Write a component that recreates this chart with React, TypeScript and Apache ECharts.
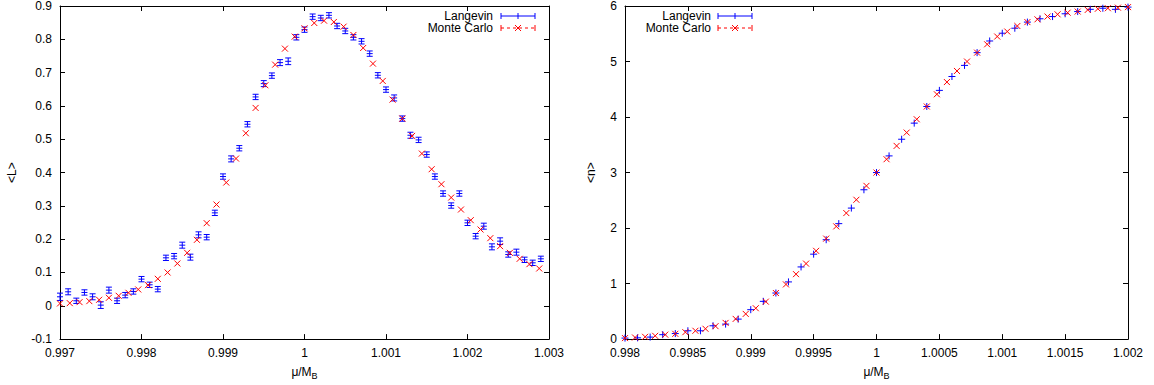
import React, { useEffect, useRef } from 'react';
import * as echarts from 'echarts';

// ---------- Left panel: <L> vs mu/M_B ----------
const lxLangevin = [
  0.9970, 0.9971, 0.9972, 0.9973, 0.9974, 0.9975, 0.9976, 0.9977, 0.9978, 0.9979,
  0.9980, 0.9981, 0.9982, 0.9983, 0.9984, 0.9985, 0.9986, 0.9987, 0.9988, 0.9989,
  0.9990, 0.9991, 0.9992, 0.9993, 0.9994, 0.9995, 0.9996, 0.9997, 0.9998, 0.9999,
  1.0000, 1.0001, 1.0002, 1.0003, 1.0004, 1.0005, 1.0006, 1.0007, 1.0008, 1.0009,
  1.0010, 1.0011, 1.0012, 1.0013, 1.0014, 1.0015, 1.0016, 1.0017, 1.0018, 1.0019,
  1.0020, 1.0021, 1.0022, 1.0023, 1.0024, 1.0025, 1.0026, 1.0027, 1.0028, 1.0029,
];
const lyLangevin = [
  0.027, 0.042, 0.015, 0.040, 0.027, 0.002, 0.047, 0.015, 0.032, 0.043,
  0.080, 0.063, 0.050, 0.144, 0.149, 0.182, 0.146, 0.213, 0.206, 0.279,
  0.388, 0.441, 0.473, 0.545, 0.627, 0.667, 0.691, 0.730, 0.734, 0.806,
  0.829, 0.868, 0.864, 0.872, 0.840, 0.825, 0.806, 0.794, 0.757, 0.692,
  0.649, 0.624, 0.562, 0.512, 0.498, 0.454, 0.388, 0.337, 0.301, 0.337,
  0.249, 0.209, 0.239, 0.177, 0.194, 0.154, 0.161, 0.138, 0.129, 0.141,
];
const lerrLangevin = [
  0.011, 0.009, 0.008, 0.008, 0.009, 0.010, 0.009, 0.008, 0.008, 0.008,
  0.008, 0.008, 0.008, 0.008, 0.008, 0.009, 0.009, 0.009, 0.008, 0.008,
  0.008, 0.009, 0.008, 0.008, 0.008, 0.009, 0.008, 0.009, 0.010, 0.008,
  0.008, 0.008, 0.008, 0.008, 0.008, 0.008, 0.008, 0.008, 0.008, 0.008,
  0.008, 0.009, 0.008, 0.009, 0.008, 0.008, 0.008, 0.008, 0.008, 0.008,
  0.008, 0.008, 0.009, 0.009, 0.010, 0.008, 0.009, 0.008, 0.008, 0.008,
];
const lxMonteCarlo = [
  0.99700, 0.99712, 0.99724, 0.99736, 0.99748, 0.99760, 0.99772, 0.99784, 0.99796, 0.99808,
  0.99820, 0.99832, 0.99844, 0.99856, 0.99868, 0.99880, 0.99892, 0.99904, 0.99916, 0.99928,
  0.99940, 0.99952, 0.99964, 0.99976, 0.99988, 1.00000, 1.00012, 1.00024, 1.00036, 1.00048,
  1.00060, 1.00072, 1.00084, 1.00096, 1.00108, 1.00120, 1.00132, 1.00144, 1.00156, 1.00168,
  1.00180, 1.00192, 1.00204, 1.00216, 1.00228, 1.00240, 1.00252, 1.00264, 1.00276, 1.00288,
];
const lyMonteCarlo = [
  0.007, 0.008, 0.011, 0.014, 0.018, 0.024, 0.030, 0.039, 0.049, 0.062,
  0.081, 0.100, 0.127, 0.159, 0.198, 0.248, 0.304, 0.370, 0.442, 0.518,
  0.594, 0.662, 0.724, 0.772, 0.808, 0.833, 0.849, 0.856, 0.852, 0.838,
  0.813, 0.774, 0.727, 0.675, 0.619, 0.562, 0.510, 0.457, 0.410, 0.365,
  0.325, 0.289, 0.257, 0.229, 0.203, 0.179, 0.159, 0.141, 0.125, 0.112,
];

// ---------- Right panel: <n> vs mu/M_B ----------
const rxLangevin = [
  0.9980, 0.9981, 0.9982, 0.9983, 0.9984, 0.9985, 0.9986, 0.9987, 0.9988, 0.9989,
  0.9990, 0.9991, 0.9992, 0.9993, 0.9994, 0.9995, 0.9996, 0.9997, 0.9998, 0.9999,
  1.0000, 1.0001, 1.0002, 1.0003, 1.0004, 1.0005, 1.0006, 1.0007, 1.0008, 1.0009,
  1.0010, 1.0011, 1.0012, 1.0013, 1.0014, 1.0015, 1.0016, 1.0017, 1.0018, 1.0019,
  1.0020,
];
const ryLangevin = [
  0.018, 0.023, 0.036, 0.08, 0.10, 0.15, 0.15, 0.24, 0.27, 0.36,
  0.53, 0.68, 0.83, 1.03, 1.30, 1.53, 1.79, 2.08, 2.36, 2.69,
  3.00, 3.30, 3.60, 3.89, 4.19, 4.48, 4.73, 4.93, 5.16, 5.37,
  5.51, 5.60, 5.71, 5.77, 5.81, 5.86, 5.90, 5.94, 5.96, 5.94,
  5.98,
];
const rxMonteCarlo = [
  0.99800, 0.99808, 0.99816, 0.99824, 0.99832, 0.99840, 0.99848, 0.99856, 0.99864, 0.99872,
  0.99880, 0.99888, 0.99896, 0.99904, 0.99912, 0.99920, 0.99928, 0.99936, 0.99944, 0.99952,
  0.99960, 0.99968, 0.99976, 0.99984, 0.99992, 1.00000, 1.00008, 1.00016, 1.00024, 1.00032,
  1.00040, 1.00048, 1.00056, 1.00064, 1.00072, 1.00080, 1.00088, 1.00096, 1.00104, 1.00112,
  1.00120, 1.00128, 1.00136, 1.00144, 1.00152, 1.00160, 1.00168, 1.00176, 1.00184, 1.00192,
  1.00200,
];
const ryMonteCarlo = [
  0.018, 0.029, 0.041, 0.059, 0.08, 0.095, 0.125, 0.15, 0.186, 0.233,
  0.292, 0.364, 0.454, 0.556, 0.675, 0.83, 0.985, 1.17, 1.36, 1.59,
  1.81, 2.03, 2.27, 2.51, 2.76, 3.00, 3.24, 3.48, 3.72, 3.96,
  4.19, 4.41, 4.63, 4.83, 5.00, 5.16, 5.31, 5.45, 5.54, 5.64,
  5.71, 5.76, 5.81, 5.85, 5.88, 5.90, 5.93, 5.95, 5.96, 5.97,
  5.98,
];

const seriesNames = ['Langevin', 'Monte Carlo'];
const xAxisTitle = 'μ/M';
const xAxisTitleSub = 'B';
const leftYTitle = '<L>';
const rightYTitle = '<n>';

const BLUE = '#0000ff';
const RED = '#ff0000';
const FONT = '"Liberation Sans", Arial, Helvetica, sans-serif';

const fmt = (v: number) => String(parseFloat(Number(v).toFixed(6)));

const seg = (x1: number, y1: number, x2: number, y2: number, color: string, dash?: number[]) => ({
  type: 'line',
  shape: { x1, y1, x2, y2 },
  style: { stroke: color, lineWidth: 1, lineDash: dash },
});

const renderErrBar = (params: any, api: any) => {
  const x = api.value(0), y = api.value(1), e = api.value(2);
  const c = api.coord([x, y]);
  const t = api.coord([x, y + e]);
  const b = api.coord([x, y - e]);
  const w = 3;
  return {
    type: 'group',
    children: [
      seg(c[0], t[1], c[0], b[1], BLUE),
      seg(c[0] - w, t[1], c[0] + w, t[1], BLUE),
      seg(c[0] - w, b[1], c[0] + w, b[1], BLUE),
      seg(c[0] - w, c[1], c[0] + w, c[1], BLUE),
    ],
  };
};

const renderPlus = (params: any, api: any) => {
  const c = api.coord([api.value(0), api.value(1)]);
  const w = 3.5;
  return {
    type: 'group',
    children: [seg(c[0] - w, c[1], c[0] + w, c[1], BLUE), seg(c[0], c[1] - w, c[0], c[1] + w, BLUE)],
  };
};

const renderCross = (params: any, api: any) => {
  const c = api.coord([api.value(0), api.value(1)]);
  const w = 3;
  return {
    type: 'group',
    children: [seg(c[0] - w, c[1] - w, c[0] + w, c[1] + w, RED), seg(c[0] - w, c[1] + w, c[0] + w, c[1] - w, RED)],
  };
};

const legendGraphic = (textRight: number, x1: number, x2: number, y1: number, y2: number) => {
  const mid = (x1 + x2) / 2;
  const cap = 3;
  const w = 3;
  return [
    { type: 'text', x: textRight, y: y1, style: { text: seriesNames[0], font: `12px ${FONT}`, fill: '#000', align: 'right', verticalAlign: 'middle' } },
    { type: 'text', x: textRight, y: y2, style: { text: seriesNames[1], font: `12px ${FONT}`, fill: '#000', align: 'right', verticalAlign: 'middle' } },
    seg(x1, y1, x2, y1, BLUE),
    seg(x1, y1 - cap, x1, y1 + cap, BLUE),
    seg(x2, y1 - cap, x2, y1 + cap, BLUE),
    seg(mid, y1 - w, mid, y1 + w, BLUE),
    seg(x1, y2, x2, y2, RED, [3, 3]),
    seg(x1, y2 - cap, x1, y2 + cap, RED),
    seg(x2, y2 - cap, x2, y2 + cap, RED),
    seg(mid - w, y2 - w, mid + w, y2 + w, RED),
    seg(mid - w, y2 + w, mid + w, y2 - w, RED),
  ];
};

export default function App() {
  const ref = useRef<HTMLDivElement>(null);

  useEffect(() => {
    if (!ref.current) return;
    const chart = echarts.init(ref.current, undefined, { renderer: 'svg' });

    const axisLine = { show: true, onZero: false, lineStyle: { color: '#000', width: 1 } };
    const tick = { show: true, inside: true, length: 5, lineStyle: { color: '#000', width: 1 } };
    const label = { color: '#000', fontSize: 12, fontFamily: FONT, formatter: fmt };

    const xName = `{a|${xAxisTitle}}{b|${xAxisTitleSub}}`;
    const xNameStyle = {
      color: '#000',
      rich: {
        a: { fontSize: 12, fontFamily: FONT, color: '#000', lineHeight: 16 },
        b: { fontSize: 9, fontFamily: FONT, color: '#000', lineHeight: 16, padding: [7, 0, 0, 0] },
      },
    };

    const mkX = (gridIndex: number, min: number, max: number, interval: number) => [
      {
        type: 'value', gridIndex, min, max, interval, position: 'bottom',
        axisLine, axisTick: tick, axisLabel: { ...label, margin: 8 }, splitLine: { show: false },
        name: xName, nameLocation: 'middle', nameGap: 24, nameTextStyle: xNameStyle,
      },
      {
        type: 'value', gridIndex, min, max, interval, position: 'top',
        axisLine, axisTick: tick, axisLabel: { show: false }, splitLine: { show: false },
      },
    ];
    const mkY = (gridIndex: number, min: number, max: number, interval: number, name: string, gap: number) => [
      {
        type: 'value', gridIndex, min, max, interval, position: 'left',
        axisLine, axisTick: tick, axisLabel: { ...label, margin: 8 }, splitLine: { show: false },
        name, nameLocation: 'middle', nameGap: gap, nameRotate: 90,
        nameTextStyle: { color: '#000', fontSize: 12, fontFamily: FONT },
      },
      {
        type: 'value', gridIndex, min, max, interval, position: 'right',
        axisLine, axisTick: tick, axisLabel: { show: false }, splitLine: { show: false },
      },
    ];

    chart.setOption({
      animation: false,
      backgroundColor: '#fff',
      grid: [
        { left: 60, top: 5, width: 489, height: 335 },
        { left: 625, top: 5, width: 503, height: 335 },
      ],
      xAxis: [...mkX(0, 0.997, 1.003, 0.001), ...mkX(1, 0.998, 1.002, 0.0005)],
      yAxis: [...mkY(0, -0.1, 0.9, 0.1, leftYTitle, 42), ...mkY(1, 0, 6, 1, rightYTitle, 28)],
      series: [
        {
          type: 'custom', name: seriesNames[0], xAxisIndex: 0, yAxisIndex: 0, clip: false,
          encode: { x: 0, y: 1 }, renderItem: renderErrBar,
          data: lxLangevin.map((x, i) => [x, lyLangevin[i], lerrLangevin[i]]),
        },
        {
          type: 'custom', name: seriesNames[1], xAxisIndex: 0, yAxisIndex: 0, clip: false,
          encode: { x: 0, y: 1 }, renderItem: renderCross,
          data: lxMonteCarlo.map((x, i) => [x, lyMonteCarlo[i]]),
        },
        {
          type: 'custom', name: seriesNames[0], xAxisIndex: 2, yAxisIndex: 2, clip: false,
          encode: { x: 0, y: 1 }, renderItem: renderPlus,
          data: rxLangevin.map((x, i) => [x, ryLangevin[i]]),
        },
        {
          type: 'custom', name: seriesNames[1], xAxisIndex: 2, yAxisIndex: 2, clip: false,
          encode: { x: 0, y: 1 }, renderItem: renderCross,
          data: rxMonteCarlo.map((x, i) => [x, ryMonteCarlo[i]]),
        },
      ],
      graphic: [
        ...legendGraphic(493, 501, 535, 16, 28),
        ...legendGraphic(711, 718, 752, 16, 28),
      ],
    });

    return () => chart.dispose();
  }, []);

  return <div ref={ref} style={{ position: 'absolute', left: 0, top: 0, width: 1154, height: 385 }} />;
}
